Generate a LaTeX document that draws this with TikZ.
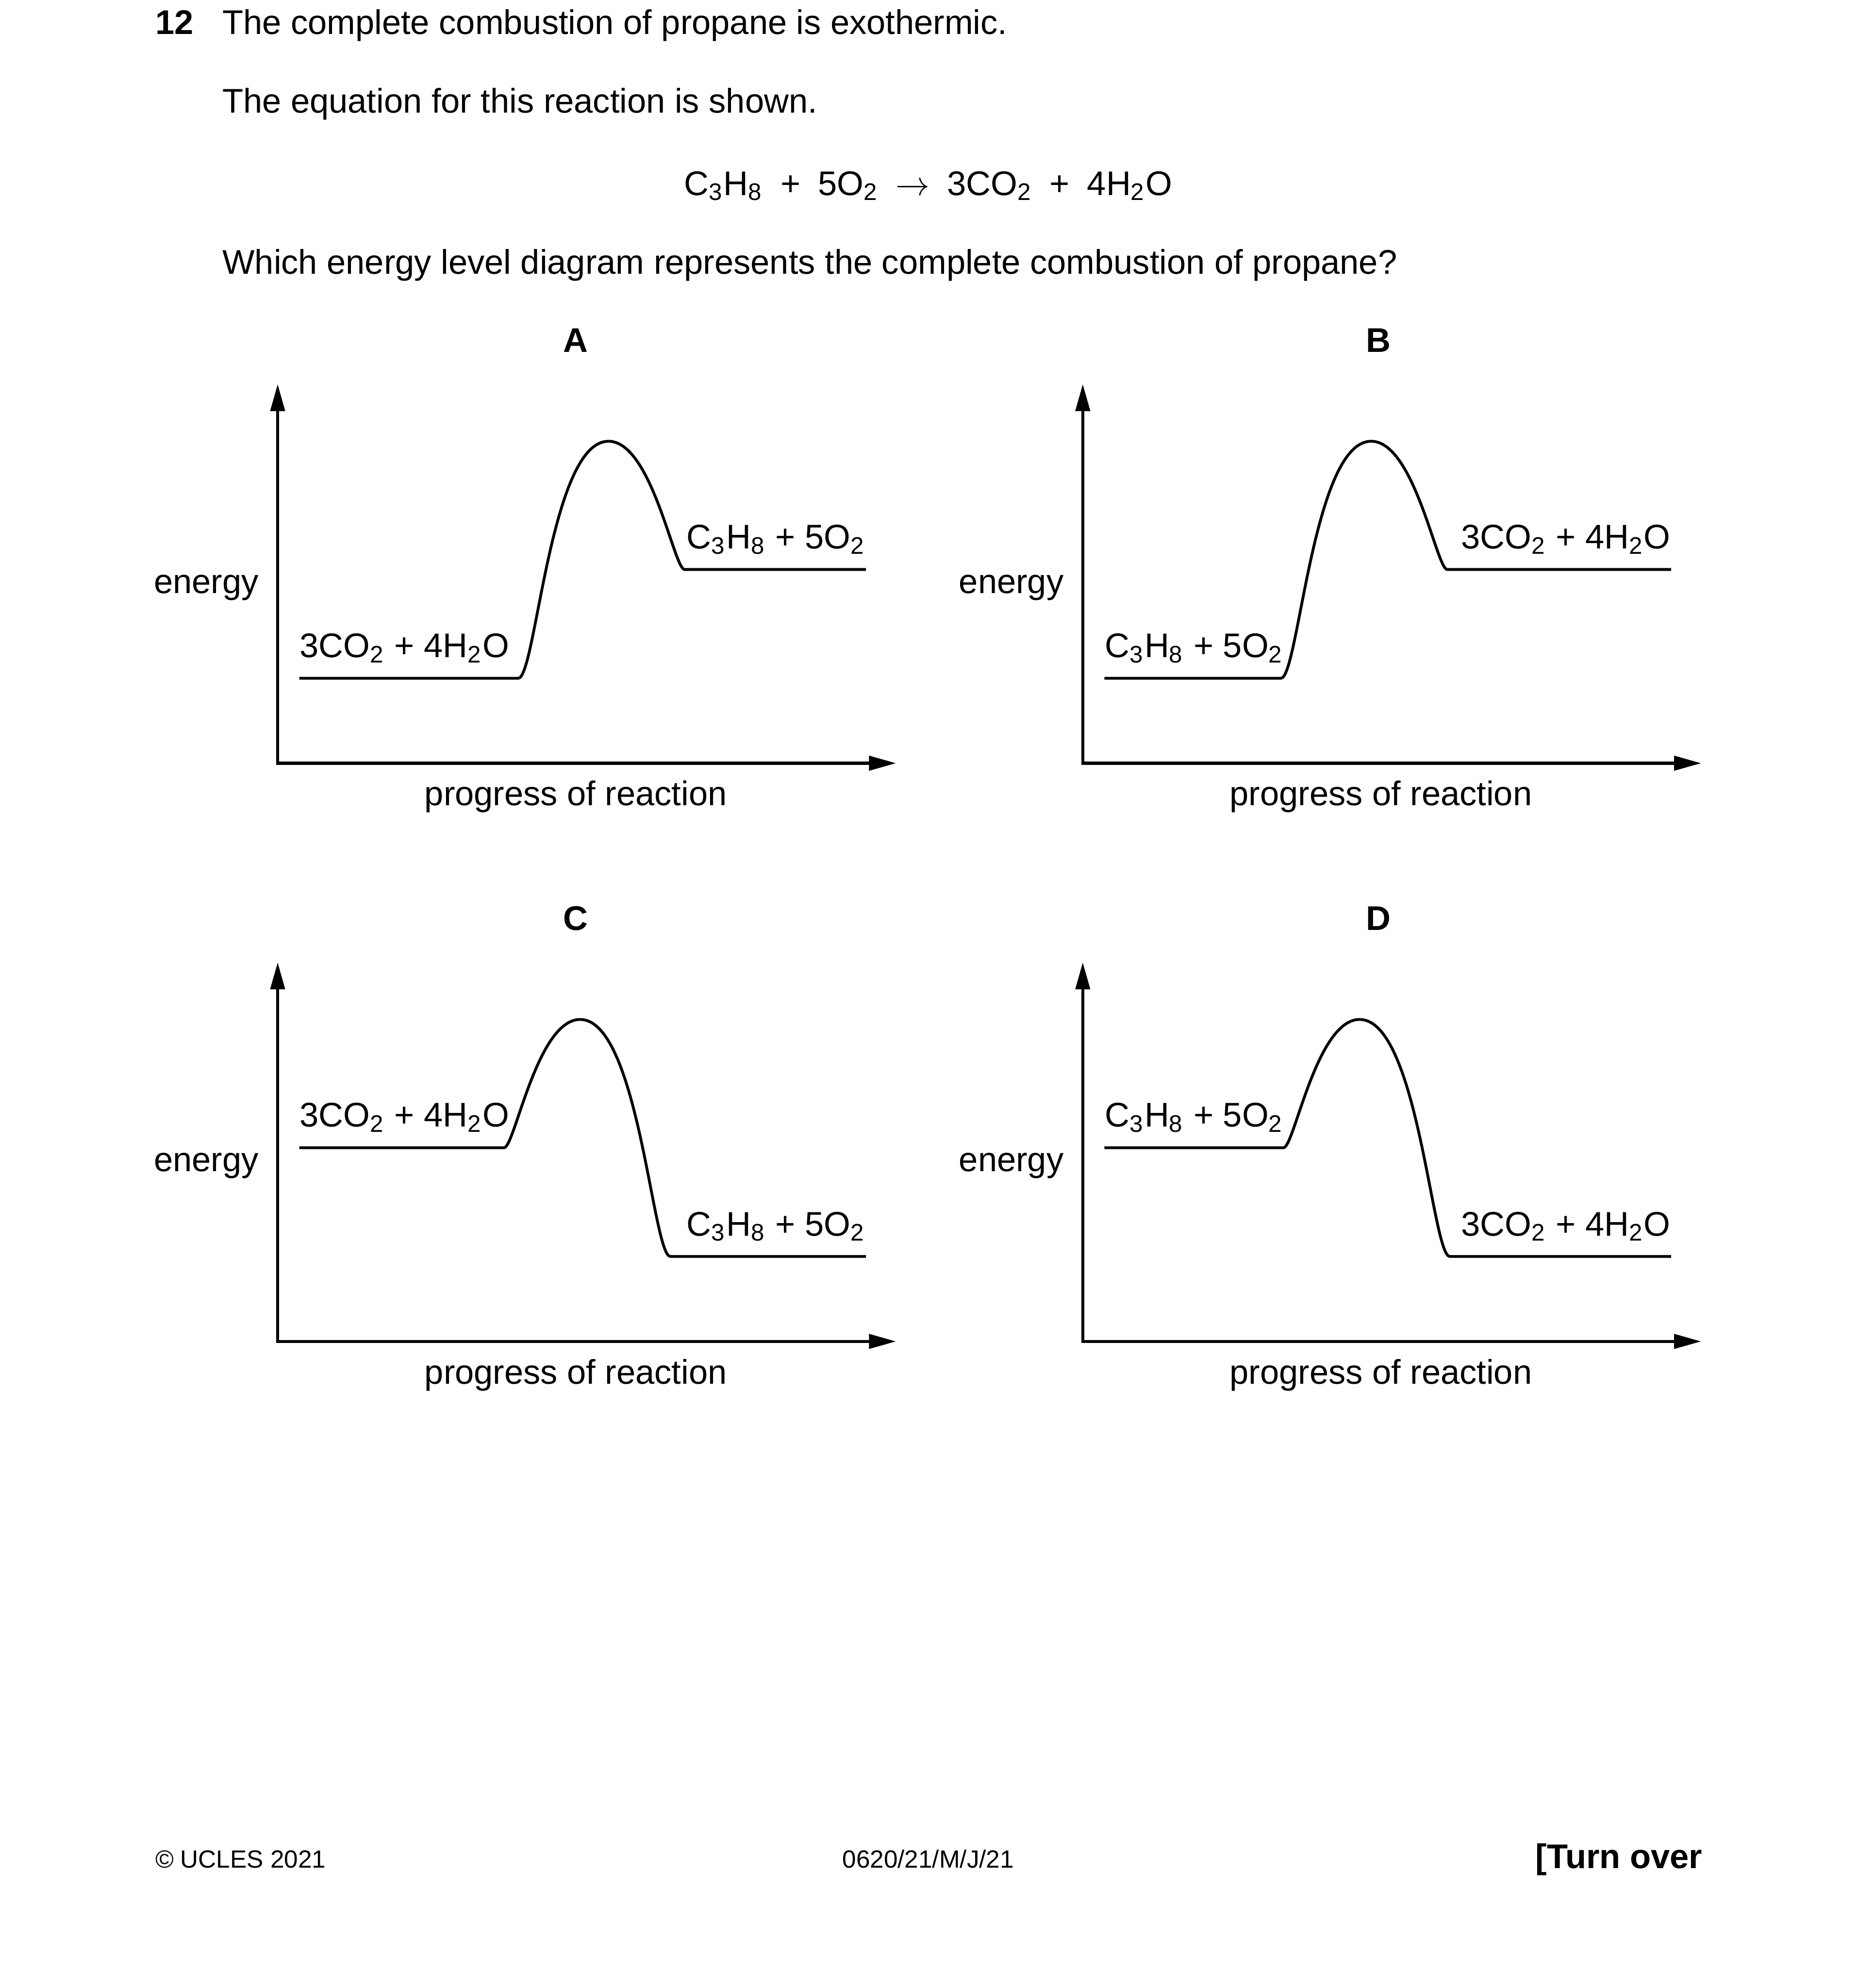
\documentclass[tikz,border=0pt]{standalone}
\usepackage{fontspec}
\setmainfont{Liberation Sans}
\usetikzlibrary{arrows.meta}
\newcommand{\qfont}{\fontsize{11}{13}\selectfont}
\newcommand{\ffont}{\fontsize{8}{10}\selectfont}
\newcommand{\propane}{C\textsubscript{3}H\textsubscript{8} + 5O\textsubscript{2}}
\newcommand{\products}{3CO\textsubscript{2} + 4H\textsubscript{2}O}
\newcommand{\gap}{\hspace{5.6pt}}

\begin{document}
\begin{tikzpicture}[
 every node/.style={inner sep=0pt,font=\qfont},
 >={Triangle[length=8.7pt,width=4.6pt]},
 axis/.style={line width=0.95pt,<->},
 curve/.style={line width=0.9pt,line join=round},
 lbl/.style={anchor=base west},
 lblr/.style={anchor=base east}]
 \useasboundingbox (0,0) rectangle (21,22.476);
 % question text
 \node[lbl,font=\qfont\bfseries] (qnum) at (1.749,22.089){12};
 \node[lbl] (qline1) at (2.508,22.089){The complete combustion of propane is exothermic.};
 \node[lbl] (qline2) at (2.508,21.200){The equation for this reaction is shown.};
 \node[anchor=base] (eqn) at (10.493,20.268){C\textsubscript{3}H\textsubscript{8}\gap+\gap5O\textsubscript{2}\gap$\rightarrow$\gap3CO\textsubscript{2}\gap+\gap4H\textsubscript{2}O};
 \node[lbl] (qline3) at (2.508,19.380){Which energy level diagram represents the complete combustion of propane?};

 % A
 \begin{scope}[shift={(3.139,13.847)}]
 \draw[axis] (0,4.286) -- (0,0) -- (6.991,0);
 \draw[curve] (0.244,0.96) -- (2.72,0.96) .. controls (2.92,0.96) and (3.08,3.64) .. (3.74,3.64)
   .. controls (4.23,3.64) and (4.48,2.19) .. (4.60,2.19) -- (6.651,2.19);
 \node[anchor=base,font=\qfont\bfseries] (titleA) at (3.368,4.648){A};
 \node[lblr] (energyA) at (-0.21,1.92){energy};
 \node[anchor=base] (progA) at (3.37,-0.48){progress of reaction};
 \node[lbl] (lowA) at (0.244,1.195){\products};
 \node[lblr] (highA) at (6.651,2.425){\propane};
 \end{scope}

 % B
 \begin{scope}[shift={(12.241,13.847)}]
 \draw[axis] (0,4.286) -- (0,0) -- (6.991,0);
 \draw[curve] (0.244,0.96) -- (2.24,0.96) .. controls (2.44,0.96) and (2.60,3.64) .. (3.26,3.64)
   .. controls (3.75,3.64) and (4.00,2.19) .. (4.12,2.19) -- (6.651,2.19);
 \node[anchor=base,font=\qfont\bfseries] (titleB) at (3.34,4.648){B};
 \node[lblr] (energyB) at (-0.21,1.92){energy};
 \node[anchor=base] (progB) at (3.37,-0.48){progress of reaction};
 \node[lbl] (lowB) at (0.244,1.195){\propane};
 \node[lblr] (highB) at (6.651,2.425){\products};
 \end{scope}

 % C
 \begin{scope}[shift={(3.139,7.310)}]
 \draw[axis] (0,4.286) -- (0,0) -- (6.991,0);
 \draw[curve] (0.244,2.19) -- (2.56,2.19) .. controls (2.68,2.19) and (2.93,3.64) .. (3.42,3.64)
   .. controls (4.08,3.64) and (4.24,0.96) .. (4.44,0.96) -- (6.651,0.96);
 \node[anchor=base,font=\qfont\bfseries] (titleC) at (3.368,4.648){C};
 \node[lblr] (energyC) at (-0.21,1.92){energy};
 \node[anchor=base] (progC) at (3.37,-0.48){progress of reaction};
 \node[lbl] (highC) at (0.244,2.425){\products};
 \node[lblr] (lowC) at (6.651,1.195){\propane};
 \end{scope}

 % D
 \begin{scope}[shift={(12.241,7.310)}]
 \draw[axis] (0,4.286) -- (0,0) -- (6.991,0);
 \draw[curve] (0.244,2.19) -- (2.27,2.19) .. controls (2.39,2.19) and (2.64,3.64) .. (3.13,3.64)
   .. controls (3.79,3.64) and (3.95,0.96) .. (4.15,0.96) -- (6.651,0.96);
 \node[anchor=base,font=\qfont\bfseries] (titleD) at (3.34,4.648){D};
 \node[lblr] (energyD) at (-0.21,1.92){energy};
 \node[anchor=base] (progD) at (3.37,-0.48){progress of reaction};
 \node[lbl] (highD) at (0.244,2.425){\propane};
 \node[lblr] (lowD) at (6.651,1.195){\products};
 \end{scope}

 % footer
 \node[lbl,font=\ffont] (copy) at (1.749,1.36){\textcopyright\ UCLES 2021};
 \node[anchor=base,font=\ffont] (code) at (10.493,1.36){0620/21/M/J/21};
 \node[lblr,font=\qfont\bfseries] (turn) at (19.251,1.35){[Turn over};
\end{tikzpicture}
\end{document}
